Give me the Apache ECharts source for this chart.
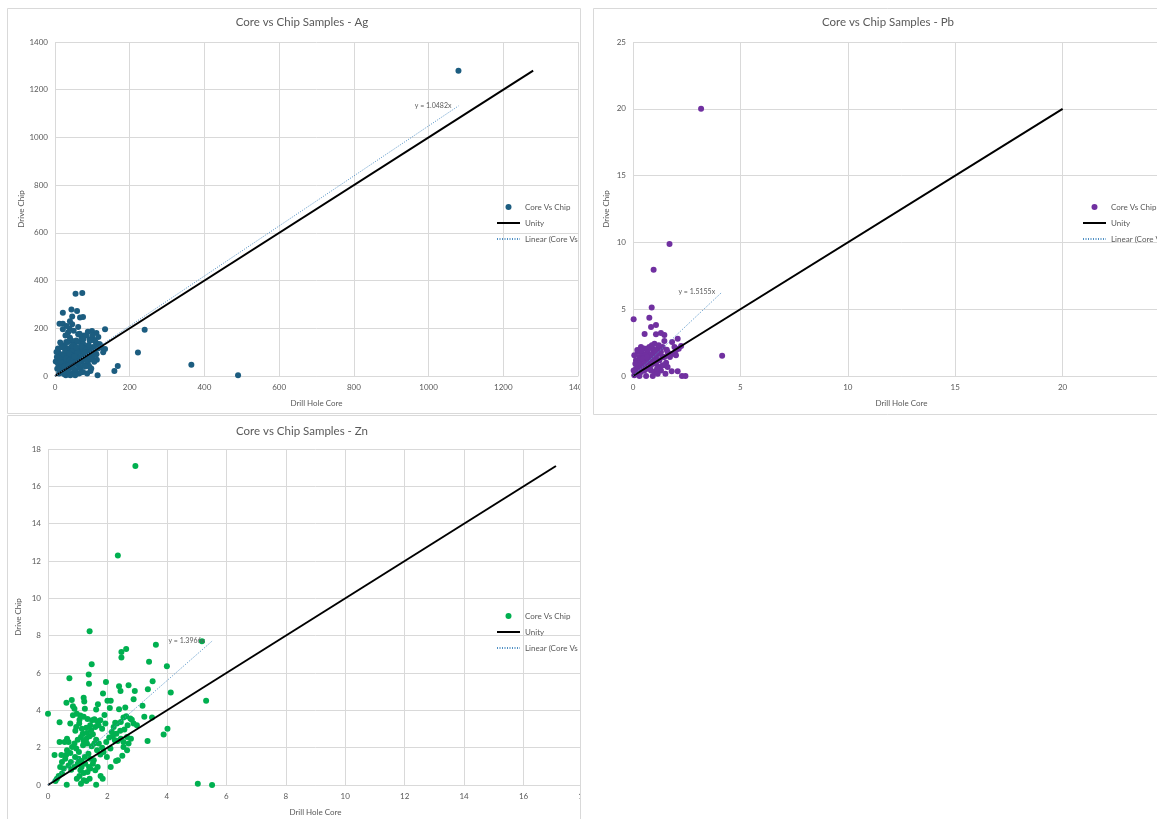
<!DOCTYPE html>
<html>
<head>
<meta charset="utf-8">
<script src="https://cdn.jsdelivr.net/npm/echarts@6/dist/echarts.min.js"></script>
<style>
  html, body { margin: 0; padding: 0; background: #fff; overflow: hidden; }
  #chart { width: 1180px; height: 819px; }
</style>
</head>
<body>
<div id="chart"></div>
<script>
// [drill hole core, drive chip] pairs
const agPoints = [
  [1080, 1280], [490, 3], [365, 47], [240, 194], [222, 99], [168, 42], [159, 21], [134, 196], [134, 113], [114, 3], [2, 61],
  [55, 345], [73, 348], [21, 265], [59, 272], [44, 279], [46, 249], [75, 247], [12, 219], [21, 219], [46, 217], [21, 196],
  [39, 198], [35, 182], [99, 189], [62, 175], [78, 170], [111, 180], [116, 163], [93, 154], [118, 133], [112, 68], [9, 100],
  [4, 101], [8, 115], [17, 122], [26, 129], [35, 115], [44, 122], [53, 136], [66, 142], [75, 136], [84, 122], [93, 115],
  [102, 122], [111, 136], [79, 115], [62, 115], [11, 80], [20, 87], [29, 94], [37, 80], [46, 87], [55, 94], [64, 80],
  [73, 87], [82, 80], [91, 91], [100, 80], [106, 101], [8, 52], [17, 45], [26, 59], [35, 52], [44, 38], [53, 52], [62, 45],
  [71, 59], [79, 45], [88, 52], [97, 31], [20, 24], [29, 17], [37, 31], [46, 10], [55, 24], [64, 10], [11, 10], [29, 3],
  [41, 3], [54, 3], [75, 17], [86, 10], [95, 21], [14, 31], [21, 66], [30, 73], [39, 66], [48, 68], [57, 73], [44, 101],
  [53, 108], [71, 105], [86, 101], [93, 149], [104, 152], [71, 163], [57, 149], [44, 149], [30, 142], [20, 122], [115, 115],
  [120, 133], [111, 91], [84, 170], [66, 177], [35, 142], [15, 60], [25, 40], [33, 20], [42, 55], [50, 30], [58, 62],
  [68, 35], [77, 70], [85, 65], [92, 40], [18, 90], [27, 105], [38, 95], [48, 112], [60, 100], [70, 125], [80, 98],
  [90, 130], [98, 105], [105, 60], [12, 75], [24, 8], [36, 44], [52, 82], [63, 58], [69, 15], [81, 40], [95, 70],
  [40, 160], [50, 190], [28, 170], [88, 185], [100, 170], [108, 145], [62, 205], [67, 245], [40, 230], [31, 210],
  [14, 140], [6, 30], [5, 80], [47, 128], [57, 120], [76, 155], [96, 150], [123, 120], [129, 100], [102, 95]
];

const pbPoints = [
  [3.17, 20], [1.70, 9.88], [0.96, 7.96], [0.87, 5.12], [0.03, 4.24], [0.76, 4.36], [0.84, 3.67], [1.07, 3.82],
  [0.54, 3.14], [1.07, 3.12], [1.30, 3.22], [1.46, 3.07], [2.08, 2.79], [1.46, 2.62], [1.82, 2.54], [2.24, 2.24],
  [4.15, 1.52], [2.28, 0], [2.44, 0], [1.80, 0.35], [2.08, 0.35], [1.51, 0.17],
  [0.37, 2.17], [0.22, 1.80], [0.06, 1.55], [0.14, 1.17], [0.30, 1.42], [0.45, 1.67], [0.61, 2.04], [0.76, 2.17],
  [0.92, 2.00], [1.00, 2.42], [1.15, 2.04], [1.30, 1.80], [1.38, 2.17], [1.57, 1.97], [1.69, 1.62], [1.85, 1.67],
  [2.00, 1.55], [2.00, 1.92], [1.72, 1.42], [1.54, 1.00], [1.51, 0.80], [1.23, 0.67], [1.07, 0.92], [0.84, 0.80],
  [0.68, 0.55], [0.53, 0.42], [0.37, 0.30], [0.22, 0.17], [0.06, 0.05], [0.30, 0], [0.61, 0], [0.92, 0],
  [0.45, 0.80], [0.61, 1.17], [0.76, 1.42], [0.92, 1.67], [1.07, 1.42], [1.23, 1.17], [1.38, 1.42], [0.30, 0.67],
  [0.14, 0.55], [0.68, 1.80], [0.53, 1.55], [0.37, 1.17], [0.26, 0.92], [0.84, 0.42], [1.00, 0.30], [1.15, 0.17],
  [1.30, 0.42], [1.12, 0.55], [1.46, 1.42], [1.61, 1.80], [1.93, 2.17], [2.13, 2.04], [1.23, 1.67], [1.04, 1.80],
  [0.84, 1.55], [0.45, 1.30], [0.11, 0.92], [0.03, 0.42], [0.57, 0.92], [0.73, 1.05], [0.95, 1.17], [1.38, 0.80],
  [1.61, 0.67], [0.20, 1.95], [0.50, 2.05], [0.88, 2.30], [1.20, 2.30], [0.40, 1.90], [0.65, 1.40], [1.00, 1.10]
];

const znPoints = [
  [2.94, 17.09], [2.35, 12.3], [1.40, 8.24], [5.18, 7.70], [3.63, 7.52], [2.47, 7.13], [2.63, 7.29], [2.47, 6.83],
  [3.40, 6.60], [1.47, 6.47], [4.00, 6.36], [1.37, 5.92], [0.72, 5.72], [1.95, 5.52], [1.38, 5.43], [3.52, 5.56],
  [2.71, 5.34], [2.39, 5.29], [3.36, 5.13], [2.92, 5.04], [2.44, 5.04], [4.13, 4.95], [1.85, 4.90], [1.20, 4.68],
  [5.32, 4.52], [0.80, 4.56], [0.62, 4.41], [1.22, 4.47], [2.88, 4.59], [1.68, 4.33], [2.00, 4.52], [2.11, 4.52],
  [0.84, 4.22], [3.18, 4.24], [2.60, 4.15], [0.89, 4.08], [2.08, 4.13], [2.39, 4.06], [1.62, 4.04], [1.24, 4.09],
  [0, 3.82], [1.90, 3.75], [3.24, 3.65], [3.50, 3.61], [1.09, 3.72], [0.39, 3.36], [2.82, 3.50], [2.26, 3.34],
  [3.35, 2.36], [3.89, 2.70], [4.02, 3.02], [0.39, 2.31], [0.56, 2.31], [0.22, 1.61], [0.45, 1.61], [0.61, 1.61],
  [1.77, 0.48], [1.84, 0.34], [1.62, 0.02], [0.63, 0.02], [5.04, 0.07], [5.52, 0], [2.11, 0.97], [2.29, 1.29],
  [2.35, 1.32], [2.50, 1.57], [2.66, 1.86], [2.54, 2.04],
  [1.06, 3.49], [1.20, 3.65], [1.33, 3.54], [1.48, 3.47], [1.56, 3.52], [1.65, 3.41], [1.76, 3.47], [1.42, 3.20],
  [1.29, 3.07], [1.14, 3.02], [1.05, 3.29], [0.95, 3.11], [0.92, 2.90], [1.17, 2.75], [1.31, 2.79], [1.45, 2.93],
  [1.59, 3.11], [1.70, 3.20], [1.82, 3.02], [1.93, 3.29], [0.64, 2.48], [0.69, 2.31], [0.81, 2.04], [0.89, 2.22],
  [1.00, 2.43], [1.11, 2.57], [1.20, 2.36], [1.29, 2.48], [1.40, 2.61], [1.51, 2.72], [1.62, 2.43], [1.71, 2.22],
  [1.82, 2.00], [1.96, 2.31], [2.06, 2.54], [2.15, 2.84], [2.21, 3.11], [2.32, 3.29], [2.45, 3.38], [2.54, 3.61],
  [2.63, 3.68], [2.77, 3.56], [2.88, 3.29], [2.99, 3.20], [2.68, 3.20], [2.57, 2.97], [2.43, 2.90], [2.30, 2.75],
  [2.18, 2.61], [2.25, 2.40], [2.34, 2.36], [2.45, 2.48], [2.66, 2.57], [2.79, 2.48], [2.71, 2.22], [2.54, 2.31],
  [0.64, 1.86], [0.75, 1.72], [0.91, 1.50], [1.02, 1.41], [1.13, 1.29], [1.24, 1.50], [1.36, 1.68], [1.42, 1.41],
  [1.51, 1.14], [1.38, 0.97], [1.25, 1.14], [1.13, 0.97], [1.00, 1.14], [0.89, 0.97], [0.77, 1.23], [0.69, 1.05],
  [1.09, 0.79], [1.20, 0.64], [1.06, 0.48], [1.33, 0.70], [1.42, 0.88], [1.54, 1.32], [1.65, 1.86], [1.76, 1.64],
  [1.87, 1.77], [1.98, 1.50], [2.10, 1.95], [1.20, 0.25], [1.11, 0.07], [1.29, 0.21], [1.40, 0.34], [0.97, 0.34],
  [0.78, 0.82], [0.47, 0.61], [0.36, 0.48], [0.30, 0.34], [0.25, 0.21], [0.53, 0.88], [0.41, 0.97], [1.04, 1.77],
  [0.95, 1.95], [1.18, 2.13], [1.31, 2.22], [1.47, 2.07], [1.56, 2.22], [0.58, 1.41], [0.47, 1.23], [1.59, 0.79],
  [1.67, 0.97], [0.75, 3.29], [0.84, 3.74], [0.97, 3.82]
];

const agSlope = 1.0482;
const pbSlope = 1.5155;
const znSlope = 1.3966;
const legendNames = ['Core Vs Chip', 'Unity', 'Linear (Core Vs Chip)'];

const textColor = '#595959';
const gridColor = '#d9d9d9';
const font = 'Lato, "Noto Sans", sans-serif';

// the canvas is a little wider than the window, so the Pb plot runs off the right edge like the screenshot
const panels = [
  { key: 'Ag', points: agPoints, slope: agSlope, color: '#1c5d80', max: 1400, step: 200,
    grid: { left: 55, top: 42, width: 523, height: 334 }, titleX: 302, titleY: 22,
    legend: { left: 496, top: 203 }, yNameGap: 30 },
  { key: 'Pb', points: pbPoints, slope: pbSlope, color: '#7030a0', max: 25, step: 5,
    grid: { left: 633, top: 42, width: 537, height: 334 }, titleX: 888, titleY: 22,
    legend: { left: 1082, top: 203 }, yNameGap: 23 },
  { key: 'Zn', points: znPoints, slope: znSlope, color: '#00b050', max: 18, step: 2,
    grid: { left: 48, top: 449, width: 535, height: 336 }, titleX: 302, titleY: 431,
    legend: { left: 496, top: 612 }, yNameGap: 26 }
];

const option = {
  animation: false,
  backgroundColor: '#fff',
  textStyle: { fontFamily: font },
  grid: [], xAxis: [], yAxis: [], legend: [], series: [], graphic: []
};

panels.forEach((p, i) => {
  const maxCore = Math.max(...p.points.map(d => d[0]));
  const maxChip = Math.max(...p.points.map(d => d[1]));
  option.grid.push(p.grid);
  option.xAxis.push({
    type: 'value', gridIndex: i, min: 0, max: p.max, interval: p.step,
    name: 'Drill Hole Core', nameLocation: 'middle', nameGap: 23,
    nameTextStyle: { fontSize: 8, color: textColor },
    axisLine: { show: true, lineStyle: { color: gridColor } },
    axisTick: { show: false },
    axisLabel: { fontSize: 8, color: textColor, margin: 7, formatter: v => String(v) },
    splitLine: { show: true, lineStyle: { color: gridColor } }
  });
  option.yAxis.push({
    type: 'value', gridIndex: i, min: 0, max: p.max, interval: p.step,
    name: 'Drive Chip', nameLocation: 'middle', nameGap: p.yNameGap,
    nameTextStyle: { fontSize: 8, color: textColor },
    axisLine: { show: false },
    axisTick: { show: false },
    axisLabel: { fontSize: 8, color: textColor, margin: 7, formatter: v => String(v) },
    splitLine: { show: true, lineStyle: { color: gridColor } }
  });
  const names = legendNames.map(n => p.key + '|' + n);
  option.legend.push({
    orient: 'vertical', left: p.legend.left, top: p.legend.top, padding: 0,
    itemWidth: 23, itemHeight: 6, itemGap: 8,
    textStyle: { fontSize: 8, color: textColor, width: 68, overflow: 'truncate', ellipsis: '' },
    formatter: n => n.split('|')[1],
    data: [
      { name: names[0], icon: 'circle' },
      { name: names[1], itemStyle: { opacity: 0 } },
      { name: names[2], itemStyle: { opacity: 0 } }
    ]
  });
  option.series.push({
    name: names[0], type: 'scatter', xAxisIndex: i, yAxisIndex: i,
    symbolSize: 6, itemStyle: { color: p.color, opacity: 1 },
    data: p.points
  });
  option.series.push({
    name: names[1], type: 'line', xAxisIndex: i, yAxisIndex: i,
    symbol: 'none', lineStyle: { color: '#000', width: 2 }, itemStyle: { color: '#000' },
    data: [[0, 0], [maxChip, maxChip]], z: 3
  });
  option.series.push({
    name: names[2], type: 'line', xAxisIndex: i, yAxisIndex: i,
    symbol: 'none', lineStyle: { color: '#4f8fc4', width: 1, type: [1, 1.5] }, itemStyle: { color: '#4f8fc4' },
    data: [[0, 0], [maxCore, maxCore * p.slope]], z: 4,
    markPoint: {
      symbol: 'circle', symbolSize: 0, silent: true,
      label: { show: true, position: 'left', distance: 7, fontSize: 7, color: textColor, formatter: 'y = ' + p.slope + 'x' },
      data: [{ coord: [maxCore, maxCore * p.slope] }]
    }
  });
  option.graphic.push({
    type: 'text', x: p.titleX, y: p.titleY, z: 10,
    style: { text: 'Core vs Chip Samples - ' + p.key, fontSize: 11.5, fontFamily: font, fill: textColor,
      textAlign: 'center', textVerticalAlign: 'middle' }
  });
});

// chart frames, and the gap that clips the left charts on the right
option.graphic.push(
  { type: 'rect', shape: { x: 7.5, y: 8.5, width: 573, height: 405 }, z: 100, style: { fill: 'none', stroke: gridColor } },
  { type: 'rect', shape: { x: 7.5, y: 415.5, width: 573, height: 410 }, z: 100, style: { fill: 'none', stroke: gridColor } },
  { type: 'rect', shape: { x: 581, y: 0, width: 12, height: 819 }, z: 99, style: { fill: '#fff' } },
  { type: 'rect', shape: { x: 593.5, y: 8.5, width: 600, height: 406 }, z: 100, style: { fill: 'none', stroke: gridColor } }
);

const chart = echarts.init(document.getElementById('chart'));
chart.setOption(option);
</script>
</body>
</html>
